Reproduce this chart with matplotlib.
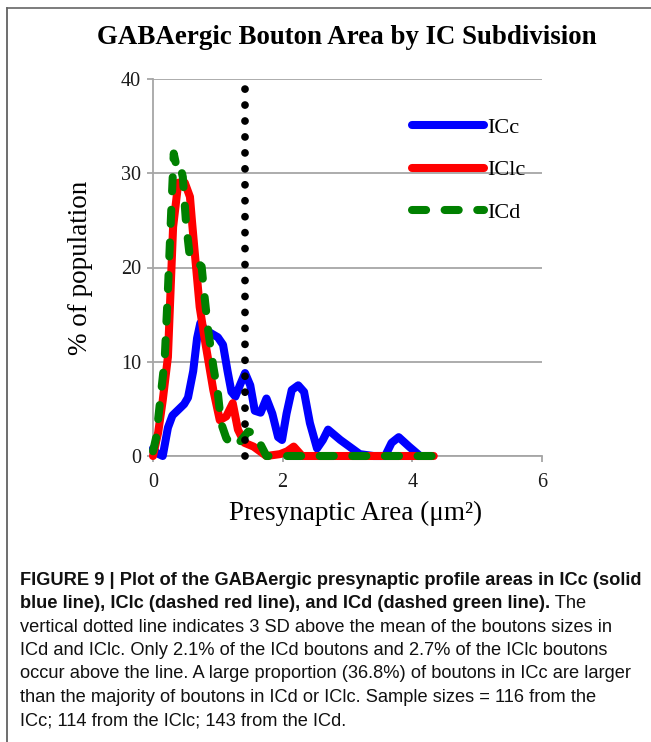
import matplotlib
matplotlib.use("Agg")
import matplotlib.pyplot as plt
from matplotlib.lines import Line2D

# ---------------- data ----------------
icc_x = [0.00, 0.06, 0.15, 0.23, 0.30, 0.39, 0.48, 0.54, 0.62, 0.68, 0.73, 0.80, 0.90,
         1.00, 1.08, 1.15, 1.21, 1.27, 1.34, 1.42, 1.50, 1.57, 1.66, 1.75, 1.84, 1.93,
         1.99, 2.06, 2.14, 2.24, 2.33, 2.42, 2.53, 2.62, 2.70, 2.89, 3.05, 3.19, 3.40,
         3.58, 3.68, 3.79, 3.95, 4.12]
icc_y = [0.8, 0.3, 0.0, 3.0, 4.3, 4.9, 5.5, 6.2, 9.0, 12.5, 14.1, 13.4, 13.0,
         12.6, 11.8, 9.0, 6.8, 6.3, 7.5, 8.8, 7.5, 4.8, 4.6, 6.1, 4.5, 2.0,
         1.7, 4.5, 7.0, 7.5, 6.8, 3.5, 0.8, 1.7, 2.8, 1.7, 0.9, 0.2, 0.0,
         0.0, 1.4, 2.0, 1.0, 0.0]

iclc_x = [0.00, 0.08, 0.15, 0.23, 0.31, 0.39, 0.49, 0.57, 0.60, 0.64, 0.72, 0.80, 0.93,
          1.03, 1.13, 1.23, 1.31, 1.41, 1.55, 1.75, 1.96, 2.07, 2.17, 2.30, 2.60, 3.00,
          3.50, 4.00, 4.33]
iclc_y = [0.0, 2.5, 5.9, 10.5, 24.3, 29.0, 29.0, 27.5, 25.0, 21.9, 15.8, 12.3, 7.0,
          3.8, 4.2, 5.6, 2.8, 1.4, 1.0, 0.0, 0.2, 0.5, 1.0, 0.0, 0.0, 0.0,
          0.0, 0.0, 0.0]

icd_x = [0.00, 0.05, 0.10, 0.18, 0.23, 0.28, 0.32, 0.36, 0.41, 0.46, 0.51, 0.57, 0.67,
         0.75, 0.80, 0.85, 0.93, 1.00, 1.05, 1.13, 1.23, 1.34, 1.47, 1.57, 1.66, 1.75,
         2.00, 2.50, 3.00, 3.50, 4.00, 4.33]
icd_y = [0.5, 2.0, 5.2, 10.2, 17.6, 25.8, 32.1, 30.8, 31.1, 29.6, 24.7, 21.0, 20.6,
         20.1, 16.6, 13.4, 9.5, 6.7, 3.5, 1.9, 1.0, 1.5, 2.6, 2.4, 1.2, 0.0,
         0.0, 0.0, 0.0, 0.0, 0.0, 0.0]

threshold_x = 1.42          # 3 SD above mean of ICd / IClc sizes
threshold_y = [0, 39.2]

series_labels = ["ICc", "IClc", "ICd"]
x_ticks = [0, 2, 4, 6]
y_ticks = [0, 10, 20, 30, 40]

title = "GABAergic Bouton Area by IC Subdivision"
x_label = "Presynaptic Area (\u03bcm\u00b2)"
y_label = "% of population"

caption_bold = [
    "FIGURE 9 | Plot of the GABAergic presynaptic profile areas in ICc (solid",
    "blue line), IClc (dashed red line), and ICd (dashed green line).",
]
caption_rest_line2 = " The"
caption_regular = [
    "vertical dotted line indicates 3 SD above the mean of the boutons sizes in",
    "ICd and IClc. Only 2.1% of the ICd boutons and 2.7% of the IClc boutons",
    "occur above the line. A large proportion (36.8%) of boutons in ICc are larger",
    "than the majority of boutons in ICd or IClc. Sample sizes = 116 from the",
    "ICc; 114 from the IClc; 143 from the ICd.",
]

# ---------------- figure ----------------
W, H = 651, 742
fig = plt.figure(figsize=(W / 100, H / 100), dpi=100)
fig.patch.set_facecolor("white")

serif = ["Liberation Serif", "DejaVu Serif"]
sans = ["Liberation Sans", "DejaVu Sans"]

ax = fig.add_axes([153 / W, 1 - 456 / H, (542 - 153) / W, (456 - 79) / H])
ax.set_xlim(0, 6)
ax.set_ylim(0, 40)

grid_c = "#a6a6a6"
for s in ["top", "right"]:
    ax.spines[s].set_visible(False)
for s in ["left", "bottom"]:
    ax.spines[s].set_color(grid_c)
    ax.spines[s].set_linewidth(1.3)
ax.yaxis.grid(True, color=grid_c, linewidth=1.3)
ax.set_axisbelow(True)

ax.set_xticks(x_ticks)
ax.set_yticks(y_ticks)
ax.tick_params(axis="both", direction="out", length=4.5, width=1.3, color=grid_c,
               labelsize=14.5, labelcolor="#1a1a1a")
ax.tick_params(axis="y", pad=4)
ax.tick_params(axis="x", pad=8)
for lab in ax.get_xticklabels() + ax.get_yticklabels():
    lab.set_fontfamily(serif)

lw = 5.8
green_dash = (1.75, 2.3)
l1, = ax.plot(icc_x, icc_y, color="#0000ff", lw=lw, solid_capstyle="round",
              solid_joinstyle="round", zorder=3, clip_on=False)
l2, = ax.plot(iclc_x, iclc_y, color="#ff0000", lw=lw, solid_capstyle="round",
              solid_joinstyle="round", zorder=4, clip_on=False)
l3, = ax.plot(icd_x, icd_y, color="#008000", lw=lw, dashes=green_dash,
              dash_capstyle="round", dash_joinstyle="round", zorder=5, clip_on=False)
ax.plot([threshold_x, threshold_x], threshold_y, color="black", lw=5.6,
        dashes=(0.001, 2.05), dash_capstyle="round", zorder=6, clip_on=False)

leg = ax.legend([l1, l2, l3], series_labels, loc="upper left",
                bbox_to_anchor=(0.666, 0.898), frameon=False, borderpad=0,
                borderaxespad=0, handlelength=3.25, handletextpad=0.15,
                labelspacing=0.98, prop={"family": serif, "size": 16})

ax.set_xlabel(x_label, fontsize=19.5, family=serif)
ax.set_ylabel(y_label, fontsize=19.5, family=serif)
ax.xaxis.set_label_coords(0.522, -0.12)
ax.yaxis.set_label_coords(-0.155, 0.5)

fig.text(347 / W, 1 - 37 / H, title, ha="center", va="center", fontsize=19.4,
         fontweight="bold", family=serif)

# border lines (left and top)
fig.add_artist(Line2D([6.5 / W, 6.5 / W], [0, 1 - 8 / H], transform=fig.transFigure,
                      color="#555555", lw=1.2))
fig.add_artist(Line2D([6.5 / W, 1], [1 - 8 / H, 1 - 8 / H], transform=fig.transFigure,
                      color="#666666", lw=1.2))

# caption
x0 = 20 / W
base0 = 585
step = 23.35
fs = 13.15
t = None
for i, line in enumerate(caption_bold):
    t = fig.text(x0, 1 - (base0 + i * step) / H, line, ha="left", va="baseline",
                 fontsize=fs, fontweight="bold", family=sans, color="#111111")
fig.add_artist(plt.Annotation(caption_rest_line2, xy=(1, 0), xycoords=t,
                              va="bottom", ha="left", fontsize=fs, family=sans,
                              color="#111111"))
for j, line in enumerate(caption_regular):
    i = j + len(caption_bold)
    fig.text(x0, 1 - (base0 + i * step) / H, line, ha="left", va="baseline",
             fontsize=fs, family=sans, color="#111111")

fig.savefig("out.png", dpi=100, facecolor="white")
